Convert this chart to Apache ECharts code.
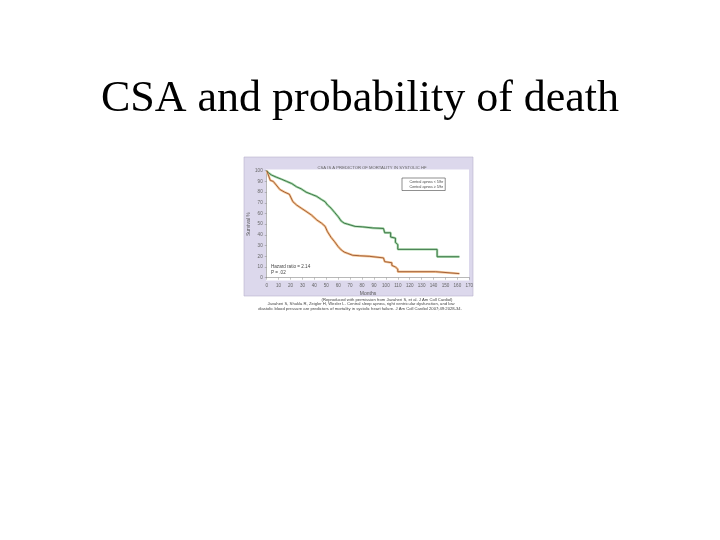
<!DOCTYPE html>
<html><head><meta charset="utf-8">
<script src="https://cdn.jsdelivr.net/npm/echarts@6/dist/echarts.min.js"></script>
<style>html,body{margin:0;padding:0;background:#fff;}#c{width:720px;height:540px;}</style>
</head><body><div id="c"></div>
<script>
var xTicks = [0,10,20,30,40,50,60,70,80,90,100,110,120,130,140,150,160,170];
var yTicks = [0,10,20,30,40,50,60,70,80,90,100];
var seriesNames = ['Central apnea < 5/hr', 'Central apnea \u2265 5/hr'];
var lowMonths = [0,1.4,4,8,12.5,16.7,21,25,29,33,37.5,42,46,49,51,54,57,60,62.5,65,68,74,80.5,89,98,99,104,104,108,108,110,110,143,143,161.7];
var lowSurv   = [100,98,96,94,92,90,88,85,83,80,78,76,73,71,68,65,61,57,53,51,50,48,47.5,46.5,46,42,42,38,37,33,31,26.5,26.5,19.6,19.6];
var highMonths = [0,1.4,3,5.5,8,11,15,19,22,25,29,33,37.5,42,46,49,51,54,57,60,62.5,65,68,72,78,86,86,98,99,105,105,108,110,110,141.7,141.7,161.7];
var highSurv   = [100,96,91,90,86.6,82.5,80,78,71,68,65,62,58.6,54,51,48,43,37.7,33.6,29,26,24,22.7,21,20.5,20,19,18.5,15,14,11.5,10,8,5.6,5.6,3.8,3.8];
var captionLines = [
  '(Reproduced with permission from Javaheri S, et al. J Am Coll Cardiol)',
  'Javaheri S, Shukla R, Zeigler H, Wexler L. Central sleep apnea, right ventricular dysfunction, and low',
  'diastolic blood pressure are predictors of mortality in systolic heart failure. J Am Coll Cardiol 2007;49:2028-34.'
];

function pairs(xs, ys){ return xs.map(function(x,i){ return [x, ys[i]]; }); }
var chart = echarts.init(document.getElementById('c'), null, {renderer:'canvas'});
var small = {fontFamily:'Liberation Sans', fontSize:4.6, color:'#666'};
function lineSeries(name, data, color, width, z){
  return {name:name, type:'line', data:data, symbol:'none', z:z,
    lineStyle:{color:color, width:width}, itemStyle:{color:color, opacity:0}, animation:false, silent:true};
}
chart.setOption({
  animation:false,
  title:[
    {text:'CSA and probability of death', left:'center', top:72,
     textStyle:{fontFamily:'Liberation Serif', fontSize:44, fontWeight:'normal', color:'#000'}},
    {text:'CSA IS A PREDICTOR OF MORTALITY IN SYSTOLIC HF', left:367, top:160.5, textAlign:'center',
     textStyle:{fontFamily:'Liberation Sans', fontSize:4.2, fontWeight:'normal', color:'#666'}}
  ],
  graphic:[
    {type:'rect', z:-10, shape:{x:244, y:157, width:229, height:139}, style:{fill:'#dcd8ec', stroke:'#b8b4cc', lineWidth:0.6}},
    {type:'rect', z:-9, shape:{x:266, y:169.5, width:203, height:111}, style:{fill:'#ffffff'}},
    {type:'text', z:5, left:271, top:264.5, style:{text:'Hazard ratio = 2.14\nP = .02', font:'4.6px "Liberation Sans"', fill:'#444', lineHeight:5.3}},
    {type:'text', z:5, x:387, y:297.8, style:{text:captionLines[0], font:'4.2px "Liberation Sans"', fill:'#444', textAlign:'center'}},
    {type:'text', z:5, x:361, y:302.2, style:{text:captionLines[1], font:'4.2px "Liberation Sans"', fill:'#444', textAlign:'center'}},
    {type:'text', z:5, x:360, y:306.6, style:{text:captionLines[2], font:'4.2px "Liberation Sans"', fill:'#444', textAlign:'center'}}
  ],
  legend:{
    data:seriesNames, orient:'vertical', left:402, top:178, itemWidth:1, itemHeight:1, itemGap:1.5,
    padding:[1.5,2,1.5,0.5], borderColor:'#444', borderWidth:0.6, backgroundColor:'#fff',
    textStyle:{fontFamily:'Liberation Sans', fontSize:3.7, color:'#444', padding:[0,0,0,0]},
    itemStyle:{opacity:0}, lineStyle:{opacity:0}
  },
  grid:{left:266.7, right:720-469.3, top:170.7, bottom:540-277.7},
  xAxis:{type:'value', min:0, max:170, interval:10, name:'Months', nameLocation:'middle', nameGap:13,
    nameTextStyle:{fontFamily:'Liberation Sans', fontSize:5, color:'#555'},
    axisLine:{onZero:false, lineStyle:{color:'#888', width:0.6}},
    axisTick:{length:2, lineStyle:{color:'#888', width:0.5}},
    axisLabel:Object.assign({margin:6, formatter:function(v){return xTicks.indexOf(v)>=0?String(v):'';}}, small),
    splitLine:{show:false}},
  yAxis:{type:'value', min:0, max:100, interval:10, name:'Survival %', nameLocation:'middle', nameGap:13, nameRotate:90,
    nameTextStyle:{fontFamily:'Liberation Sans', fontSize:5, color:'#555'},
    axisLine:{show:true, lineStyle:{color:'#888', width:0.6}},
    axisTick:{show:true, length:2, lineStyle:{color:'#888', width:0.5}},
    axisLabel:Object.assign({margin:4, formatter:function(v){return yTicks.indexOf(v)>=0?String(v):'';}}, small),
    splitLine:{show:false}},
  series:[
    lineSeries('halo-low', pairs(lowMonths, lowSurv), '#a9d9ab', 2.4, 2),
    lineSeries('halo-high', pairs(highMonths, highSurv), '#f5c796', 2.4, 2),
    lineSeries(seriesNames[0], pairs(lowMonths, lowSurv), '#336b40', 0.9, 3),
    lineSeries(seriesNames[1], pairs(highMonths, highSurv), '#9a5530', 0.9, 3)
  ]
});
</script></body></html>
